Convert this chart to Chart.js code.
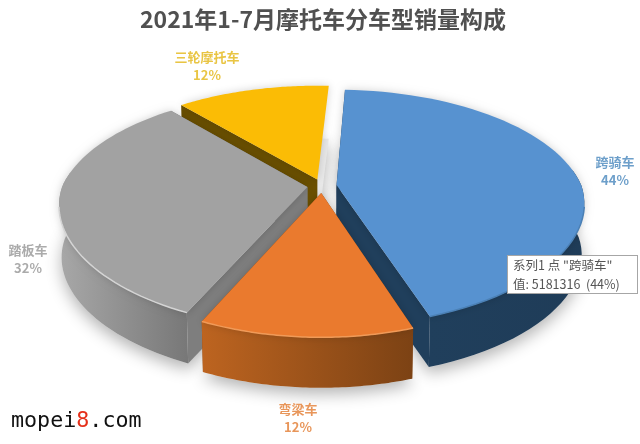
<!DOCTYPE html>
<html>
<head>
<meta charset="utf-8">
<script src="https://cdn.jsdelivr.net/npm/chart.js@4"></script>
<style>
  html, body { margin: 0; padding: 0; background: #fff; }
  canvas { display: block; }
</style>
</head>
<body>
<canvas id="myChart" width="640" height="444"></canvas>
<script>
// Data
var categories = ['跨骑车', '弯梁车', '踏板车', '三轮摩托车'];
var salesValues = [5181316, 1413000, 3768000, 1413000];
var percentLabels = ['44%', '12%', '32%', '12%'];
var chartTitle = '2021年1-7月摩托车分车型销量构成';
var seriesName = '系列1';

// Colours, same order as categories
var topColors = ['#5792d0', '#ea7a2e', '#a2a2a2', '#fbbc05'];
var cutColors = ['#203f5c', '#8a4a16', '#7e7e7e', '#6b5000'];
var rimLeft = ['#203f5c', '#bd6420', '#a8a8a8', '#8a6a00'];
var rimRight = ['#1f3c58', '#7c4214', '#787878', '#6b5000'];
var edgeColors = ['#4b80b5', '#f09a58', '#d4d4d4', '#ffd65a'];
var labelColors = ['#6d9fca', '#e8965a', '#ababab', '#e9c544'];

// Label centres (two lines per slice)
var labelSpots = [[615, 171], [298, 418], [28, 259], [207, 66]];

// Perspective of the pie plane
var view = { cx: 322, cy: 186, rx: 245, ry: 114, k: 0.19, kFront: 0.15, depth: 52, shrink: 0.99, explode: 0.06 };

function project(a, r, ox, oy, low) {
  var u = Math.cos(a) * r + ox;
  var v = Math.sin(a) * r + oy;
  var w = 1 - view.k * v;
  var wx = v > 0 ? 1 - view.kFront * v : w; // front of the pie is a bit narrower
  var s = low ? view.shrink : 1;
  return {
    x: view.cx + s * view.rx * u / wx,
    y: view.cy + s * view.ry * v / w + (low ? view.depth : 0)
  };
}

function arcPoints(el, ox, oy, low) {
  var pts = [];
  var n = 60;
  for (var i = 0; i <= n; i++) {
    var a = el.startAngle + (el.endAngle - el.startAngle) * i / n;
    var p = project(a, 1, ox, oy, low);
    p.sin = Math.sin(a);
    pts.push(p);
  }
  return pts;
}

function fillPoly(ctx, pts, fill) {
  ctx.beginPath();
  ctx.moveTo(pts[0].x, pts[0].y);
  for (var i = 1; i < pts.length; i++) ctx.lineTo(pts[i].x, pts[i].y);
  ctx.closePath();
  ctx.fillStyle = fill;
  ctx.fill();
}

function facing(p) { return p.sin > -0.15; }

var pie3d = {
  id: 'pie3d',
  beforeDatasetsDraw: function (chart) {
    var ctx = chart.ctx;
    var arcs = chart.getDatasetMeta(0).data;
    var order = arcs.map(function (el, i) {
      var mid = (el.startAngle + el.endAngle) / 2;
      return { i: i, el: el, mid: mid, ox: Math.cos(mid) * view.explode, oy: Math.sin(mid) * view.explode };
    });
    order.sort(function (p, q) { return Math.sin(p.mid) - Math.sin(q.mid); });

    // soft shadow on the ground
    ctx.save();
    ctx.shadowColor = 'rgba(0,0,0,0.3)';
    ctx.shadowBlur = 16;
    ctx.shadowOffsetY = 6;
    order.forEach(function (s) {
      var apexLow = project(0, 0, s.ox, s.oy, true);
      fillPoly(ctx, [apexLow].concat(arcPoints(s.el, s.ox, s.oy, true)), '#e8e8e8');
    });
    ctx.restore();

    // back to front
    order.forEach(function (s) {
      var i = s.i;
      var apexTop = project(0, 0, s.ox, s.oy, false);
      var apexLow = project(0, 0, s.ox, s.oy, true);
      var top = arcPoints(s.el, s.ox, s.oy, false);
      var low = arcPoints(s.el, s.ox, s.oy, true);

      // cut faces, the one pointing straight away from us stays hidden
      fillPoly(ctx, [apexTop, top[0], low[0], apexLow], cutColors[i]);
      if (Math.sin(s.el.endAngle) > -0.9) {
        fillPoly(ctx, [apexTop, top[top.length - 1], low[low.length - 1], apexLow], cutColors[i]);
      }

      // rim, front part only
      var rimTop = top.filter(facing);
      var rimLow = low.filter(facing);
      if (rimTop.length > 1) {
        var xs = rimTop.map(function (p) { return p.x; });
        var grad = ctx.createLinearGradient(Math.min.apply(null, xs), 0, Math.max.apply(null, xs), 0);
        grad.addColorStop(0, rimLeft[i]);
        grad.addColorStop(1, rimRight[i]);
        fillPoly(ctx, rimTop.concat(rimLow.slice().reverse()), grad);
      }

      // top face
      ctx.save();
      ctx.shadowColor = 'rgba(0,0,0,0.18)';
      ctx.shadowBlur = 8;
      fillPoly(ctx, [apexTop].concat(top), topColors[i]);
      ctx.restore();

      // lit edge on the front of the rim only
      var lit = top.filter(function (p) { return p.sin > 0.15; });
      if (lit.length > 1) {
        ctx.beginPath();
        lit.forEach(function (p, n) { if (n) ctx.lineTo(p.x, p.y); else ctx.moveTo(p.x, p.y); });
        ctx.strokeStyle = edgeColors[i];
        ctx.lineWidth = 1.5;
        ctx.stroke();
      }
    });
    return false;
  },
  afterDraw: function (chart) {
    var ctx = chart.ctx;
    ctx.save();
    ctx.textAlign = 'center';
    ctx.textBaseline = 'middle';

    // slice labels
    ctx.font = 'bold 13px "Noto Sans CJK SC"';
    categories.forEach(function (name, i) {
      ctx.fillStyle = labelColors[i];
      ctx.fillText(name, labelSpots[i][0], labelSpots[i][1] - 9);
      ctx.fillText(percentLabels[i], labelSpots[i][0], labelSpots[i][1] + 9);
    });

    // hover box left in the screenshot
    ctx.textAlign = 'left';
    ctx.fillStyle = '#fff';
    ctx.fillRect(507, 255, 130, 38);
    ctx.strokeStyle = '#a6a6a6';
    ctx.lineWidth = 1;
    ctx.strokeRect(507.5, 255.5, 130, 38);
    ctx.fillStyle = '#555';
    ctx.font = '12.5px "Noto Sans CJK SC"';
    ctx.fillText(seriesName + ' 点 "' + categories[0] + '"', 513, 265);
    ctx.fillText('值: ' + salesValues[0] + '  (' + percentLabels[0] + ')', 513, 284);

    // site mark
    ctx.font = '21.7px "DejaVu Sans Mono"';
    ctx.fillStyle = '#111';
    ctx.fillText('mopei', 11, 421);
    var x = 11 + ctx.measureText('mopei').width;
    ctx.fillStyle = '#e5301a';
    ctx.fillText('8', x, 421);
    x += ctx.measureText('8').width;
    ctx.fillStyle = '#111';
    ctx.fillText('.com', x, 421);
    ctx.restore();
  }
};

new Chart(document.getElementById('myChart').getContext('2d'), {
  type: 'pie',
  data: {
    labels: categories,
    datasets: [{ label: seriesName, data: salesValues, backgroundColor: topColors, borderWidth: 0 }]
  },
  options: {
    responsive: false,
    animation: false,
    rotation: 3,
    layout: { padding: { left: 6 } },
    plugins: {
      legend: { display: false },
      tooltip: { enabled: false },
      title: {
        display: true,
        text: chartTitle,
        color: '#505050',
        font: { family: '"Noto Sans CJK SC"', size: 23, weight: 'bold' },
        padding: { top: 5, bottom: 10 }
      }
    }
  },
  plugins: [pie3d]
});
</script>
</body>
</html>
